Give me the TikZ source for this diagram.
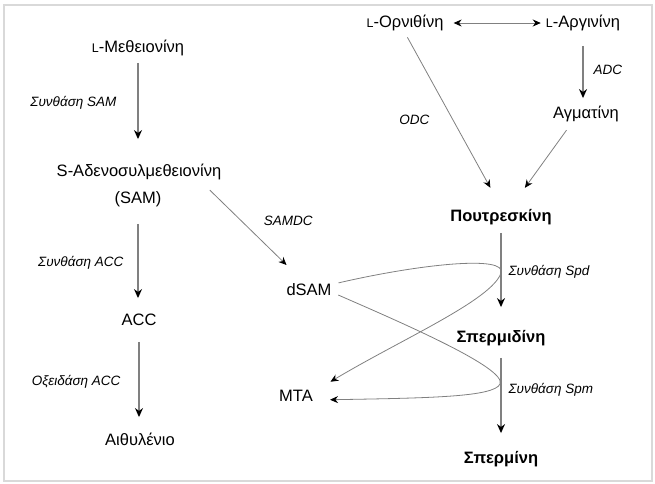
\documentclass[tikz,border=0pt]{standalone}
\usepackage{fontspec}
\setmainfont{Liberation Sans}
\usepackage{tikz}
\usetikzlibrary{arrows.meta, positioning}

\newcommand{\smallL}{{\fontsize{12.5}{12}\selectfont L}}

\begin{document}
\begin{tikzpicture}[x=1pt, y=-1pt, >=Stealth,
    chem/.style={font=\fontsize{16.5}{20}\selectfont, inner sep=2pt, text height=12pt, text depth=3.5pt},
    enzyme/.style={font=\fontsize{13.5}{16}\selectfont\itshape, inner sep=2pt},
    flow/.style={draw=black!50, line width=1.2pt, -{Stealth[black, length=9pt, width=8pt]}},
    side/.style={draw=black!50, line width=0.8pt, -{Stealth[black, length=8pt, width=7pt]}}]

    \useasboundingbox (0,0) rectangle (655,483);
    \draw[black!15, line width=1.5pt] (4,5) rectangle (652,481);

    % ethylene branch
    \node[chem] (met) at (138,48) {\smallL-Μεθειονίνη};
    \node[chem] (sam) at (139,172) {S-Αδενοσυλμεθειονίνη};
    \node[chem] (samab) at (138,199) {(SAM)};
    \node[chem] (acc) at (139,321) {ACC};
    \node[chem] (eth) at (140,441) {Αιθυλένιο};

    % polyamine branch
    \node[chem] (orn) at (405,23) {\smallL-Ορνιθίνη};
    \node[chem] (arg) at (583,23) {\smallL-Αργινίνη};
    \node[chem] (agm) at (586,114) {Αγματίνη};
    \node[chem, font=\fontsize{16.5}{20}\selectfont\bfseries] (put) at (501,217) {Πουτρεσκίνη};
    \node[chem, font=\fontsize{16.5}{20}\selectfont\bfseries] (spd) at (501,338) {Σπερμιδίνη};
    \node[chem, font=\fontsize{16.5}{20}\selectfont\bfseries] (spm) at (501,459) {Σπερμίνη};
    \node[chem] (dsam) at (309,291) {dSAM};
    \node[chem] (mta) at (296,397) {MTA};

    % left column arrows
    \draw[flow, shorten <=5pt, shorten >=23pt] (met.south) -- (met.south |- sam.north)
        node[enzyme, pos=0.433, left=19pt] {Συνθάση SAM};
    \draw[flow, shorten <=15pt, shorten >=13pt] (samab.south) -- (samab.south |- acc.north)
        node[enzyme, pos=0.53, left=12pt] {Συνθάση ACC};
    \draw[flow, shorten <=11pt, shorten >=14pt] (acc.south) -- (acc.south |- eth.north)
        node[enzyme, pos=0.51, left=16pt] {Οξειδάση ACC};

    % SAM decarboxylation
    \draw[side, shorten <=11.7pt, shorten >=23pt] ([xshift=-22pt]sam.south east) -- ([xshift=-6pt]dsam.north)
        node[enzyme, pos=0.394, right=20pt] {SAMDC};

    % ornithine / arginine
    \draw[side, {Stealth[black, length=8pt, width=7pt]}-{Stealth[black, length=8pt, width=7pt]},
        shorten <=8pt, shorten >=3pt] (orn.east) -- (arg.west);
    \draw[flow, shorten <=13pt, shorten >=6pt] (arg.south) -- (arg.south |- agm.north)
        node[enzyme, pos=0.514, right=8pt] {ADC};
    \draw[side, shorten <=5pt, shorten >=22pt] (orn.south) -- (put.north)
        node[enzyme, pos=0.497, left=21pt] {ODC};
    \draw[side, shorten <=7.7pt, shorten >=23.7pt] ([xshift=-15pt]agm.south) -- ([xshift=10pt]put.north);

    % right column arrows
    \draw[flow, shorten <=6pt, shorten >=21pt] (put.south) -- (spd.north)
        node[enzyme, pos=0.446, right=5pt] {Συνθάση Spd};
    \draw[flow, shorten <=10pt, shorten >=16pt] (spd.south) -- (spm.north)
        node[enzyme, pos=0.416, right=5pt] {Συνθάση Spm};

    % dSAM loops to MTA
    \draw[side, shorten <=5pt, shorten >=18pt] ([yshift=7pt]dsam.east)
        .. controls (420,264) and (507,255) .. (501,273)
        .. controls (492,300) and (400,340) .. ([yshift=6pt]mta.east);
    \draw[side, shorten <=5pt, shorten >=15pt] ([yshift=-2pt]dsam.east)
        .. controls (400,322) and (507,368) .. (500,384)
        .. controls (494,397) and (430,398) .. ([yshift=-3pt]mta.east);
\end{tikzpicture}
\end{document}
